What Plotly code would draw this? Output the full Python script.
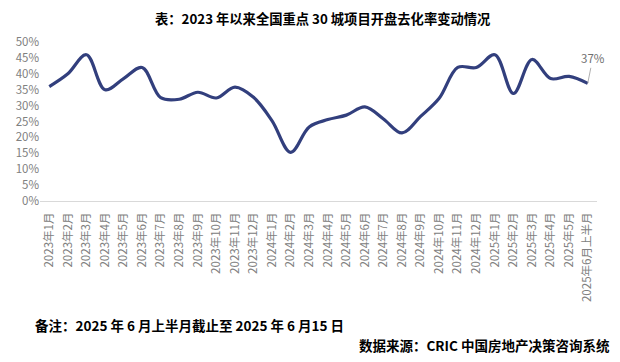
import plotly.graph_objects as go

categories = ["2023年1月", "2023年2月", "2023年3月", "2023年4月", "2023年5月", "2023年6月",
              "2023年7月", "2023年8月", "2023年9月", "2023年10月", "2023年11月", "2023年12月",
              "2024年1月", "2024年2月", "2024年3月", "2024年4月", "2024年5月", "2024年6月",
              "2024年7月", "2024年8月", "2024年9月", "2024年10月", "2024年11月", "2024年12月",
              "2025年1月", "2025年2月", "2025年3月", "2025年4月", "2025年5月", "2025年6月上半月"]
values = [36.0, 40.0, 46.0, 35.0, 38.5, 42.0,
          32.5, 32.0, 34.2, 32.4, 35.8, 32.6,
          25.2, 15.3, 23.3, 25.6, 27.0, 29.6,
          25.8, 21.4, 26.6, 32.3, 42.0, 42.0,
          46.0, 33.8, 44.5, 38.5, 39.2, 37.0]
values = [v / 100 for v in values]
y_ticks = [0, 0.05, 0.10, 0.15, 0.20, 0.25, 0.30, 0.35, 0.40, 0.45, 0.50]
y_labels = ["0%", "5%", "10%", "15%", "20%", "25%", "30%", "35%", "40%", "45%", "50%"]

title_text = "表：2023 年以来全国重点 30 城项目开盘去化率变动情况"
note_text = "备注：2025 年 6 月上半月截止至 2025 年 6 月15 日"
source_text = "数据来源：CRIC 中国房地产决策咨询系统"

FONT = "Noto Sans CJK SC"
GRAY = "#808080"

# the page body adds an 8px offset; work in page pixels and subtract it
OFF = 8
W, H = 620 - OFF, 362 - OFF
L, R, T, B = 40 - OFF, 23, 42 - OFF, 161
plot_w = W - L - R
plot_h = H - T - B


def px_to_paper(px, py):
    px -= OFF
    py -= OFF
    return (px - L) / plot_w, (H - B - py) / plot_h


fig = go.Figure()
fig.add_trace(go.Scatter(
    x=categories, y=values, mode="lines",
    line=dict(color="#323F7D", width=3.2, shape="spline", smoothing=1),
    hoverinfo="x+y",
))

fig.add_annotation(
    x=categories[-1], y=values[-1], xref="x", yref="y",
    text="37%", showarrow=True, arrowhead=0, arrowwidth=0.8, arrowcolor="#9a9a9a",
    ax=5, ay=-25, standoff=0,
    font=dict(family=FONT, size=11.5, color="#6f6f6f"),
)

tx, ty = px_to_paper(323, 8)
fig.add_annotation(x=tx, y=ty, xref="paper", yref="paper", text="<b>" + title_text + "</b>",
                   showarrow=False, xanchor="center", yanchor="top", borderpad=0,
                   font=dict(family=FONT, size=13.3, color="#000000"))

nx, ny = px_to_paper(33, 325)
fig.add_annotation(x=nx, y=ny, xref="paper", yref="paper", text="<b>" + note_text + "</b>",
                   showarrow=False, xanchor="left", yanchor="middle",
                   font=dict(family=FONT, size=13.5, color="#000000"))
sx, sy = px_to_paper(612, 345)
fig.add_annotation(x=sx, y=sy, xref="paper", yref="paper", text="<b>" + source_text + "</b>",
                   showarrow=False, xanchor="right", yanchor="middle",
                   font=dict(family=FONT, size=13.5, color="#000000"))

fig.update_layout(
    width=W, height=H,
    margin=dict(l=L, r=R, t=T, b=B),
    paper_bgcolor="white", plot_bgcolor="white",
    showlegend=False,
    font=dict(family=FONT, size=11.5, color=GRAY),
    xaxis=dict(
        type="category", tickangle=-90, showgrid=False, zeroline=False,
        showline=True, linecolor="#d9d9d9", linewidth=1, automargin=False,
        ticks="", ticklabelstandoff=6, tickfont=dict(family=FONT, size=11.5, color=GRAY),
        range=[-0.5, len(categories) - 0.5],
    ),
    yaxis=dict(
        range=[0, 0.5], tickvals=y_ticks, ticktext=y_labels, automargin=False,
        showgrid=False, zeroline=False, showline=False, ticks="",
        tickfont=dict(family=FONT, size=11.5, color=GRAY),
    ),
)

fig.write_html("out.html")
